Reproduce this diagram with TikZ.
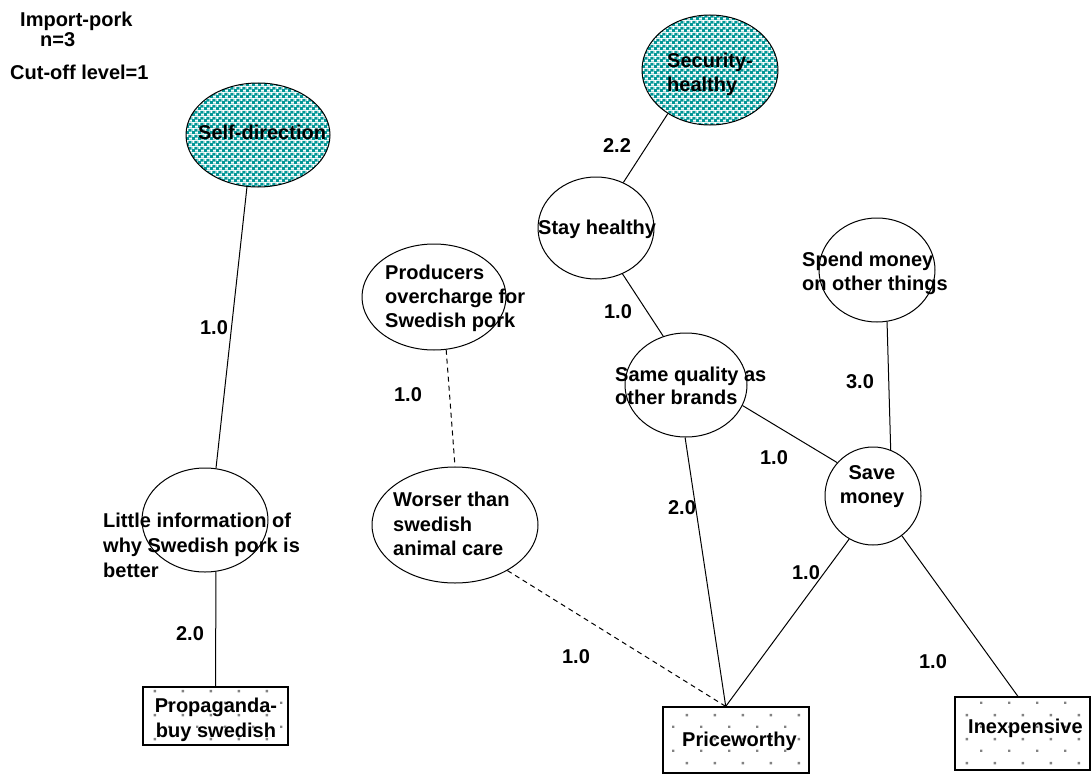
\documentclass[tikz,border=0pt]{standalone}
\usepackage{fontspec}
\setmainfont{Liberation Sans}
\usetikzlibrary{shapes.geometric,patterns.meta}

\definecolor{checkteal}{RGB}{0,150,150}
\definecolor{dotgray}{RGB}{130,130,130}

% teal/white checkerboard for the value ellipses
\tikzdeclarepattern{
  name=tealchecker,
  type=colored,
  bottom left={(0pt,0pt)},
  top right={(6pt,6pt)},
  tile size={(6pt,6pt)},
  code={
    \tikzset{x=1pt,y=1pt}
    \path[fill=white] (0,0) rectangle (6,6);
    \path[fill=checkteal] (-0.3,-0.3) rectangle (3.3,3.3);
    \path[fill=checkteal] (2.7,2.7) rectangle (6,6);
    \path[fill=checkteal] (2.7,-0.3) rectangle (6,0.3);
    \path[fill=checkteal] (-0.3,2.7) rectangle (0.3,6);
  }
}

% sparse grey dots for the attribute boxes
\tikzdeclarepattern{
  name=sparsedots,
  type=colored,
  bottom left={(0pt,0pt)},
  top right={(28pt,24pt)},
  tile size={(28pt,24pt)},
  code={
    \tikzset{x=1pt,y=1pt}
    \path[fill=dotgray] (0,0) rectangle (2.5,2.5);
    \path[fill=dotgray] (14,12) rectangle (16.5,14.5);
  }
}

\tikzset{
  concept/.style={draw, ellipse, line width=1pt, inner sep=0pt},
  value/.style={concept, pattern=tealchecker},
  attrbox/.style={draw, rectangle, line width=1.2pt, inner sep=0pt, pattern=sparsedots},
  lbl/.style={inner sep=0pt, font=\bfseries\fontsize{20}{24}\selectfont, align=left, anchor=north west},
  weight/.style={inner sep=0pt, font=\bfseries\fontsize{20}{24}\selectfont},
  link/.style={line width=1pt},
  dlink/.style={line width=1pt, dash pattern=on 5pt off 4pt},
}

\begin{document}
\begin{tikzpicture}[x=1pt, y=-1pt]
\useasboundingbox (0,0) rectangle (1092,776);

% header
\node[lbl, anchor=base west] (title) at (20,27) {Import-pork};
\node[lbl, anchor=base west] (count) at (40,47) {n=3};
\node[lbl, anchor=base west] (cutoff) at (10,80) {Cut-off level=1};

% values
\node[value, minimum width=144pt, minimum height=104pt] (sd) at (258,135) {};
\node[value, minimum width=136pt, minimum height=110pt] (sh) at (710,70) {};

% consequences
\node[concept, minimum width=116pt, minimum height=102pt] (st) at (596,228) {};
\node[concept, minimum width=144pt, minimum height=106pt] (pr) at (434,297) {};
\node[concept, minimum width=116pt, minimum height=104pt] (sp) at (877,270) {};
\node[concept, minimum width=122pt, minimum height=104pt] (sq) at (686,385) {};
\node[concept, minimum width=96pt, minimum height=98pt] (sm) at (873,496) {};
\node[concept, minimum width=166pt, minimum height=116pt] (wo) at (455,525) {};
\node[concept, minimum width=126pt, minimum height=104pt] (li) at (205,520) {};

% attributes
\node[attrbox, minimum width=145pt, minimum height=58pt] (pb) at (215.5,716) {};
\node[attrbox, minimum width=146pt, minimum height=66pt] (pw) at (736,740) {};
\node[attrbox, minimum width=135pt, minimum height=73pt] (in) at (1022.5,733.5) {};

% connectors
\draw[link] (sd.258) -- (li.78);
\draw[link] (li.282) -- (pb.north);
\draw[link] (sh.226) -- (st.59);
\draw[link] (st.300) -- (sq.115);
\draw[dlink] (pr.283) -- (wo.90);
\draw[link] (sp.281) -- (sm.69);
\draw[link] (sq.340) -- (sm.137);
\draw[link] (sq.269) -- (pw.107);
\draw[dlink] (wo.319) -- (pw.107);
\draw[link] (sm.241) -- (pw.107);
\draw[link] (sm.306) -- (in.97);

% texts
\node[lbl] (sdt) at (198,125) {Self-direction};
\node[lbl] (sht) at (667,53) {Security-\\healthy};
\node[lbl] (stt) at (538,220) {Stay healthy};
\node[lbl] (prt) at (385,265) {Producers\\overcharge for\\Swedish pork};
\node[lbl] (spt) at (802,252) {Spend money\\on other things};
\node[lbl, font=\bfseries\fontsize{20}{23}\selectfont] (sqt) at (615,367) {Same quality as\\other brands};
\node[lbl, align=center, anchor=north] (smt) at (872,465) {Save\\money};
\node[lbl, font=\bfseries\fontsize{20}{24.5}\selectfont] (wot) at (393,492) {Worser than\\swedish\\animal care};
\node[lbl, font=\bfseries\fontsize{20}{25}\selectfont] (lit) at (103,513) {Little information of\\why Swedish pork is\\better};
\node[lbl, align=center, anchor=north, font=\bfseries\fontsize{20}{25}\selectfont] (pbt) at (216,698) {Propaganda-\\buy swedish};
\node[lbl] (pwt) at (682,732) {Priceworthy};
\node[lbl] (int) at (968,719) {Inexpensive};

% weights
\node[weight] (w1) at (214,328) {1.0};
\node[weight] (w2) at (190,634) {2.0};
\node[weight] (w3) at (617,146) {2.2};
\node[weight] (w4) at (618,312) {1.0};
\node[weight] (w5) at (408,395) {1.0};
\node[weight] (w6) at (860,382) {3.0};
\node[weight] (w7) at (774,458) {1.0};
\node[weight] (w8) at (682,508) {2.0};
\node[weight] (w9) at (576,657) {1.0};
\node[weight] (w10) at (806,573) {1.0};
\node[weight] (w11) at (933,662) {1.0};
\end{tikzpicture}
\end{document}
